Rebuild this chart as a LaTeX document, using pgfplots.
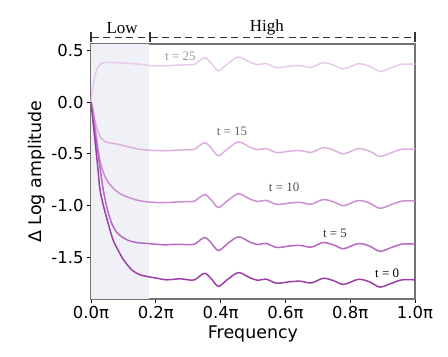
\documentclass[border=0pt]{standalone}
\usepackage{fontspec}
\setmainfont{DejaVu Sans}
\newfontfamily\serif{Liberation Serif}
\usepackage{pgfplots}
\pgfplotsset{compat=1.18}
\definecolor{cA}{HTML}{9C40A8}
\definecolor{cB}{HTML}{B868C0}
\definecolor{cC}{HTML}{CB8FD1}
\definecolor{cD}{HTML}{DCB0DF}
\definecolor{cE}{HTML}{E8CBEA}
\definecolor{lowband}{HTML}{F0F0F7}
\begin{document}
\begin{tikzpicture}
\path[use as bounding box] (-91bp,-58bp) rectangle (357bp,299bp);
\begin{axis}[
  scale only axis, width=324bp, height=255bp,
  at={(0,0)}, anchor=south west,
  xmin=0, xmax=1, ymin=-1.9, ymax=0.56,
  xtick={0,0.2,0.4,0.6,0.8,1},
  xticklabels={0.0π,0.2π,0.4π,0.6π,0.8π,1.0π},
  ytick={-1.5,-1,-0.5,0,0.5},
  yticklabels={-1.5,-1.0,-0.5,0.0,0.5},
  tick align=outside, tick pos=left,
  major tick length=4bp,
  tick style={black, line width=0.9bp},
  axis line style={draw=black!55, line width=1.2bp},
  ticklabel style={font=\fontsize{16.5}{18}\selectfont},
  label style={font=\fontsize{17.5}{20}\selectfont},
  xlabel={Frequency},
  ylabel={Δ Log amplitude},
  xlabel style={at={(rel axis cs:0.5,-0.153)}, anchor=base},
  ylabel style={at={(rel axis cs:-0.167,0.5)}, anchor=center},
  clip=false,
  every axis plot/.append style={smooth, tension=0.5, line width=1.5bp},
]
\fill[lowband] (axis cs:0,-1.9) rectangle (axis cs:0.18,0.56);
% t = 25
\addplot[cE] coordinates {
 (0,0) (0.005,0.12) (0.012,0.25) (0.022,0.34) (0.035,0.375) (0.05,0.382)
 (0.08,0.38) (0.12,0.373) (0.16,0.36) (0.18,0.352) (0.22,0.35) (0.26,0.355) (0.30,0.36)
 (0.32,0.365) (0.35,0.428) (0.37,0.38) (0.393,0.302) (0.42,0.365) (0.455,0.435)
 (0.49,0.385) (0.515,0.36) (0.54,0.372) (0.573,0.332) (0.61,0.345) (0.645,0.352)
 (0.68,0.335) (0.717,0.38) (0.75,0.355) (0.78,0.32) (0.825,0.37) (0.86,0.345)
 (0.892,0.295) (0.93,0.335) (0.96,0.365) (1.0,0.365)};
% t = 15
\addplot[cD] coordinates {
 (0,0) (0.01,-0.15) (0.02,-0.27) (0.03,-0.34) (0.043,-0.38) (0.06,-0.395)
 (0.08,-0.405) (0.1,-0.42) (0.14,-0.45) (0.18,-0.465) (0.22,-0.47) (0.26,-0.465) (0.30,-0.46)
 (0.32,-0.455) (0.35,-0.392) (0.37,-0.44) (0.393,-0.518) (0.42,-0.455) (0.455,-0.385)
 (0.49,-0.435) (0.515,-0.46) (0.54,-0.448) (0.573,-0.488) (0.61,-0.475) (0.645,-0.468)
 (0.68,-0.485) (0.717,-0.44) (0.75,-0.465) (0.78,-0.5) (0.825,-0.45) (0.86,-0.475)
 (0.892,-0.525) (0.93,-0.485) (0.96,-0.455) (1.0,-0.455)};
% t = 10
\addplot[cC] coordinates {
 (0,0) (0.007,-0.09) (0.015,-0.3) (0.025,-0.52) (0.035,-0.65) (0.05,-0.76)
 (0.075,-0.85) (0.1,-0.9) (0.14,-0.945) (0.18,-0.965) (0.22,-0.97) (0.26,-0.965) (0.30,-0.96)
 (0.32,-0.955) (0.35,-0.892) (0.37,-0.94) (0.393,-1.018) (0.42,-0.955) (0.455,-0.885)
 (0.49,-0.935) (0.515,-0.96) (0.54,-0.948) (0.573,-0.988) (0.61,-0.975) (0.645,-0.968)
 (0.68,-0.985) (0.717,-0.94) (0.75,-0.965) (0.78,-1.0) (0.825,-0.95) (0.86,-0.975)
 (0.892,-1.025) (0.93,-0.985) (0.96,-0.955) (1.0,-0.955)};
% t = 5
\addplot[cB] coordinates {
 (0,0) (0.01,-0.24) (0.02,-0.46) (0.03,-0.68) (0.038,-0.85) (0.05,-1.03)
 (0.064,-1.17) (0.08,-1.26) (0.1,-1.31) (0.115,-1.335) (0.14,-1.355) (0.177,-1.365)
 (0.228,-1.378) (0.26,-1.372) (0.30,-1.375)
 (0.32,-1.37) (0.35,-1.307) (0.37,-1.355) (0.393,-1.433) (0.42,-1.37) (0.455,-1.30)
 (0.49,-1.35) (0.515,-1.375) (0.54,-1.363) (0.573,-1.403) (0.61,-1.39) (0.645,-1.383)
 (0.68,-1.40) (0.717,-1.355) (0.75,-1.38) (0.78,-1.415) (0.825,-1.365) (0.86,-1.39)
 (0.892,-1.44) (0.93,-1.40) (0.96,-1.37) (1.0,-1.37)};
% t = 0
\addplot[cA] coordinates {
 (0,0) (0.01,-0.3) (0.02,-0.6) (0.028,-0.85) (0.04,-1.02) (0.053,-1.17)
 (0.068,-1.33) (0.084,-1.43) (0.1,-1.52) (0.126,-1.62) (0.15,-1.665) (0.177,-1.685)
 (0.205,-1.70) (0.233,-1.715) (0.275,-1.705) (0.30,-1.715)
 (0.32,-1.715) (0.35,-1.652) (0.37,-1.70) (0.393,-1.778) (0.42,-1.715) (0.455,-1.645)
 (0.49,-1.695) (0.515,-1.72) (0.54,-1.708) (0.573,-1.748) (0.61,-1.735) (0.645,-1.728)
 (0.68,-1.745) (0.717,-1.70) (0.75,-1.725) (0.78,-1.76) (0.825,-1.71) (0.86,-1.735)
 (0.892,-1.785) (0.93,-1.745) (0.96,-1.715) (1.0,-1.715)};
% curve labels
\node[font=\serif\fontsize{13}{14}\selectfont, text=black!40] at (axis cs:0.276,0.443) {t = 25};
\node[font=\serif\fontsize{13}{14}\selectfont, text=black!60] at (axis cs:0.435,-0.279) {t = 15};
\node[font=\serif\fontsize{13}{14}\selectfont, text=black!70] at (axis cs:0.596,-0.819) {t = 10};
\node[font=\serif\fontsize{13}{14}\selectfont, text=black!80] at (axis cs:0.753,-1.262) {t = 5};
\node[font=\serif\fontsize{13}{14}\selectfont, text=black] at (axis cs:0.914,-1.647) {t = 0};
% top bracket
\draw[black!80, line width=1.2bp, dash pattern=on 7bp off 4.5bp]
  (rel axis cs:0.003,1.027) -- (rel axis cs:0.179,1.027);
\draw[black!80, line width=1.2bp, dash pattern=on 7bp off 4.5bp]
  (rel axis cs:0.185,1.027) -- (rel axis cs:0.997,1.027);
\draw[black!80, line width=1.2bp] (rel axis cs:0,1.008) -- (rel axis cs:0,1.047);
\draw[black!80, line width=1.2bp] (rel axis cs:0.182,1.008) -- (rel axis cs:0.182,1.047);
\draw[black!80, line width=1.2bp] (rel axis cs:1,1.008) -- (rel axis cs:1,1.047);
\node[font=\serif\fontsize{17}{18}\selectfont] at (rel axis cs:0.096,1.063) {Low};
\node[font=\serif\fontsize{17}{18}\selectfont] at (rel axis cs:0.543,1.063) {High};
\end{axis}
\end{tikzpicture}
\end{document}
